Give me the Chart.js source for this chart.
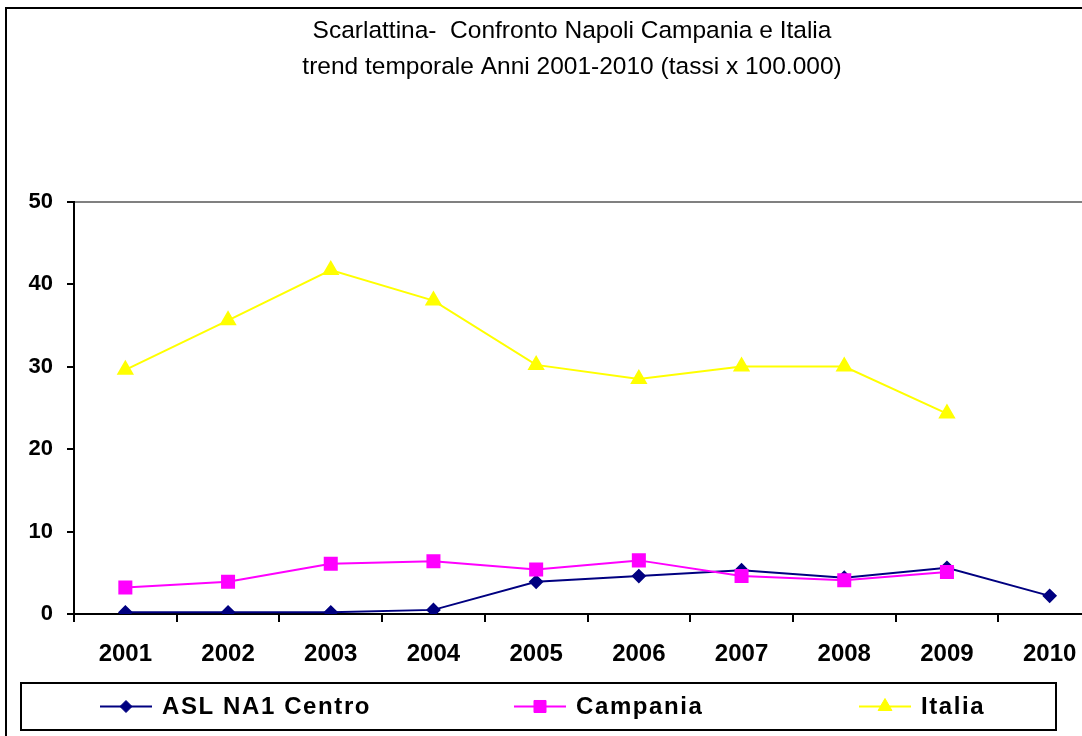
<!DOCTYPE html>
<html>
<head>
<meta charset="utf-8">
<script src="https://cdn.jsdelivr.net/npm/chart.js@4.4.0/dist/chart.umd.min.js"></script>
<style>
  html, body { margin: 0; padding: 0; overflow: hidden; background: #fff; }
  canvas { display: block; }
</style>
</head>
<body>
<canvas id="chart" width="1140" height="736"></canvas>
<script>
const years = ["2001", "2002", "2003", "2004", "2005", "2006", "2007", "2008", "2009", "2010"];
const aslNa1 = [0.2, 0.2, 0.2, 0.5, 3.9, 4.6, 5.3, 4.4, 5.6, 2.2];
const campania = [3.2, 3.9, 6.1, 6.4, 5.4, 6.5, 4.6, 4.1, 5.1, null];
const italia = [29.6, 35.6, 41.7, 38.0, 30.2, 28.5, 30.0, 30.0, 24.3, null];
const yTicks = [0, 10, 20, 30, 40, 50];
const titleLines = ["Scarlattina-  Confronto Napoli Campania e Italia", "trend temporale Anni 2001-2010 (tassi x 100.000)"];

const FONT = "Arial, 'Liberation Sans', Helvetica, sans-serif";

// legend marker: drawPoint uses whatever fill/stroke is set on ctx
const drawLegendPoint = (ctx, ds, x, y) => {
    ctx.fillStyle = ds.pointBackgroundColor;
    ctx.strokeStyle = ds.borderColor;
    ctx.lineWidth = 1;
    Chart.helpers.drawPoint(ctx, { pointStyle: ds.pointStyle, radius: ds.pointRadius, borderWidth: 1 }, x, y);
};

// ---------------- frame + legend box ----------------
const frameAndLegend = {
    id: "frameAndLegend",
    afterLayout(chart) {
        // the original chart is wider than the picture: centre the title over the whole frame
        chart.titleBlock.left = 43;
    },
    beforeDraw(chart) {
        const ctx = chart.ctx;
        ctx.save();
        ctx.fillStyle = "#fff";
        ctx.fillRect(0, 0, chart.width, chart.height);
        ctx.strokeStyle = "#000";
        ctx.lineWidth = 2;
        ctx.strokeRect(6, 8, chart.width - 12, chart.height + 20);
        ctx.restore();
    },
    afterDraw(chart) {
        const ctx = chart.ctx;
        const top = chart.chartArea.bottom + 69;
        const boxH = 47;
        ctx.save();
        ctx.strokeStyle = "#000";
        ctx.lineWidth = 2;
        ctx.strokeRect(21, top, 1035, boxH);

        const starts = [100, 514, 859];
        const midY = top + boxH / 2;
        chart.data.datasets.forEach((ds, i) => {
            const x0 = starts[i];
            const len = 52;
            ctx.strokeStyle = ds.borderColor;
            ctx.lineWidth = 2;
            ctx.beginPath();
            ctx.moveTo(x0, midY);
            ctx.lineTo(x0 + len, midY);
            ctx.stroke();
            drawLegendPoint(ctx, ds, x0 + len / 2, midY);
            ctx.font = "bold 24px " + FONT;
            ctx.letterSpacing = "1.6px";
            ctx.textBaseline = "middle";
            ctx.fillStyle = "#000";
            ctx.fillText(ds.label, x0 + len + 10, midY + 1);
        });
        ctx.restore();
    }
};

new Chart(document.getElementById("chart"), {
    type: "line",
    data: {
        labels: years,
        datasets: [
            {
                label: "ASL NA1 Centro",
                data: aslNa1,
                borderColor: "#000080",
                backgroundColor: "#000080",
                pointBackgroundColor: "#000080",
                pointBorderColor: "#000080",
                pointStyle: "rectRot",
                pointRadius: 6,
                borderWidth: 2,
                order: 3
            },
            {
                label: "Campania",
                data: campania,
                borderColor: "#FF00FF",
                backgroundColor: "#FF00FF",
                pointBackgroundColor: "#FF00FF",
                pointBorderColor: "#FF00FF",
                pointStyle: "rect",
                pointRadius: 8.5,
                borderWidth: 2,
                order: 2
            },
            {
                label: "Italia",
                data: italia,
                borderColor: "#FFFF00",
                backgroundColor: "#FFFF00",
                pointBackgroundColor: "#FFFF00",
                pointBorderColor: "#FFFF00",
                pointStyle: "triangle",
                pointRadius: 8,
                borderWidth: 2,
                order: 1
            }
        ]
    },
    options: {
        responsive: false,
        animation: false,
        layout: { padding: { left: 0, right: 39, top: 0, bottom: 62 } },
        elements: { line: { tension: 0 }, point: { borderWidth: 1, hoverRadius: 8 } },
        plugins: {
            legend: { display: false },
            tooltip: { enabled: false },
            title: {
                display: true,
                text: titleLines,
                color: "#000",
                font: { family: FONT, size: 24.5, weight: "normal", lineHeight: 1.44 },
                padding: { top: 14, bottom: 117 }
            }
        },
        scales: {
            x: {
                type: "category",
                offset: true,
                grid: {
                    offset: true,
                    drawOnChartArea: false,
                    tickLength: 8,
                    color: "#000",
                    lineWidth: 2
                },
                border: { color: "#000", width: 2 },
                ticks: {
                    color: "#000",
                    padding: 18,
                    maxRotation: 0,
                    autoSkip: false,
                    font: { family: FONT, size: 24, weight: "bold" }
                },
                afterFit(scale) { scale.height = 60; }
            },
            y: {
                min: 0,
                max: 50,
                afterBuildTicks(scale) { scale.ticks = yTicks.map(v => ({ value: v })); },
                grid: {
                    drawOnChartArea: true,
                    tickLength: 7,
                    lineWidth: 2,
                    color: (c) => (c.tick && c.tick.value === 50 ? "#808080" : "rgba(0,0,0,0)"),
                    tickColor: "#000"
                },
                border: { color: "#000", width: 2 },
                ticks: {
                    color: "#000",
                    padding: 14,
                    font: { family: FONT, size: 22, weight: "bold" }
                },
                afterFit(scale) { scale.width = 74; }
            }
        }
    },
    plugins: [frameAndLegend]
});
</script>
</body>
</html>
